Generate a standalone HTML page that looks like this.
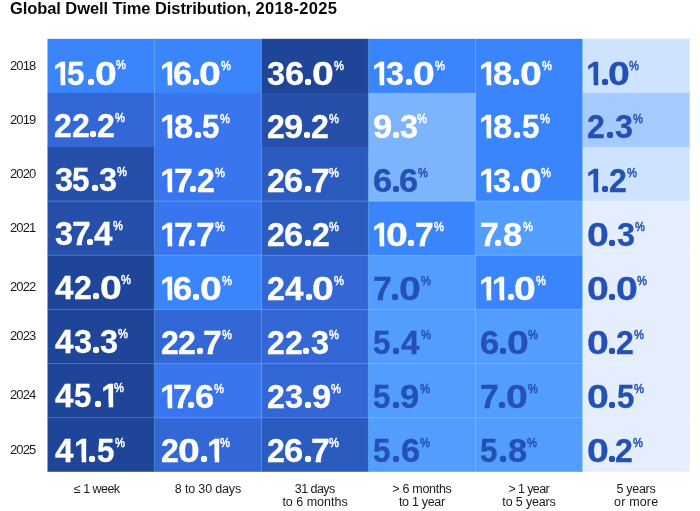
<!DOCTYPE html>
<html lang="en">
<head>
<meta charset="utf-8">
<title>Global Dwell Time Distribution, 2018-2025</title>
<style>
html,body{margin:0;padding:0;background:#fff;}
body{width:700px;height:511px;position:relative;overflow:hidden;font-family:"Liberation Sans",Arial,sans-serif;color:#111;}
h1{position:absolute;left:10px;top:-1.2px;margin:0;font-size:16.5px;line-height:18px;font-weight:700;white-space:nowrap;color:#0a0a0a;}
.yr{position:absolute;left:10px;width:36px;height:20px;line-height:20px;font-size:13px;color:#1a1a1a;letter-spacing:-0.9px;}
svg{position:absolute;left:0;top:0;}
.n{position:absolute;font-size:33.5px;line-height:40px;height:40px;font-weight:700;white-space:nowrap;-webkit-text-stroke:0.3px currentColor;}
.n i{display:inline-block;font-style:normal;transform-origin:0 50%;}
.p{position:absolute;font-size:13px;line-height:14px;height:14px;font-weight:400;-webkit-text-stroke:0.5px currentColor;transform-origin:0 50%;transform:scaleX(0.86);}
.w{color:#fff;}
.d{color:#2451b3;}
.lab{position:absolute;width:107.02px;top:482.6px;text-align:center;font-size:12.5px;line-height:13.5px;color:#1a1a1a;white-space:nowrap;}
.n .g0{transform:scaleX(1.169);margin:0 1.89px 0 -1.22px;}
.n .g1{transform:scaleX(0.990);margin:0 -6.14px 0 -1.69px;clip-path:polygon(1.84px 0,12.45px 0,12.45px 40px,7.76px 40px,7.76px 26.76px,1.84px 26.76px);}
.n .g2{transform:scaleX(0.957);margin:0 -1.78px 0 -0.85px;}
.n .g3{transform:scaleX(0.970);margin:0 -1.45px 0 -0.48px;}
.n .g4{transform:scaleX(0.989);margin:0 -0.04px 0 -0.19px;}
.n .g5{transform:scaleX(0.934);margin:0 -1.80px 0 -0.64px;}
.n .g6{transform:scaleX(1.031);margin:0 -0.39px 0 -0.94px;}
.n .g7{transform:scaleX(1.006);margin:0 -1.02px 0 -1.11px;}
.n .g8{transform:scaleX(1.030);margin:0 -0.20px 0 -0.83px;}
.n .g9{transform:scaleX(1.031);margin:0 -0.39px 0 -0.94px;}
.n .gp{transform:scale(1.298);margin:0 0.08px 0 -2.69px;clip-path:circle(2.47px at 4.65px 28.65px);transform-origin:0 31px;}

</style>
</head>
<body>
<h1><span style="letter-spacing:-0.08px">Global Dwell Time Distribution, </span><span style="letter-spacing:0.3px">2018-2025</span></h1>
<svg width="700" height="511" viewBox="0 0 700 511"><rect x="47.50" y="38.80" width="107.72" height="54.83" fill="#3b85fc"/><rect x="154.52" y="38.80" width="107.72" height="54.83" fill="#3b85fc"/><rect x="261.54" y="38.80" width="107.72" height="54.83" fill="#1f4599"/><rect x="368.56" y="38.80" width="107.72" height="54.83" fill="#3b85fc"/><rect x="475.58" y="38.80" width="107.72" height="54.83" fill="#3b85fc"/><rect x="582.60" y="38.80" width="107.02" height="54.83" fill="#cde3ff"/><rect x="47.50" y="92.92" width="107.72" height="54.83" fill="#3367d6"/><rect x="154.52" y="92.92" width="107.72" height="54.83" fill="#3875ee"/><rect x="261.54" y="92.92" width="107.72" height="54.83" fill="#254fa9"/><rect x="368.56" y="92.92" width="107.72" height="54.83" fill="#7db5fd"/><rect x="475.58" y="92.92" width="107.72" height="54.83" fill="#3b85fc"/><rect x="582.60" y="92.92" width="107.02" height="54.83" fill="#a5cbfe"/><rect x="47.50" y="147.05" width="107.72" height="54.83" fill="#254fa9"/><rect x="154.52" y="147.05" width="107.72" height="54.83" fill="#3875ee"/><rect x="261.54" y="147.05" width="107.72" height="54.83" fill="#2c5bc0"/><rect x="368.56" y="147.05" width="107.72" height="54.83" fill="#7db5fd"/><rect x="475.58" y="147.05" width="107.72" height="54.83" fill="#3b85fc"/><rect x="582.60" y="147.05" width="107.02" height="54.83" fill="#cde3ff"/><rect x="47.50" y="201.18" width="107.72" height="54.83" fill="#254fa9"/><rect x="154.52" y="201.18" width="107.72" height="54.83" fill="#3875ee"/><rect x="261.54" y="201.18" width="107.72" height="54.83" fill="#2c5bc0"/><rect x="368.56" y="201.18" width="107.72" height="54.83" fill="#3b85fc"/><rect x="475.58" y="201.18" width="107.72" height="54.83" fill="#529dfd"/><rect x="582.60" y="201.18" width="107.02" height="54.83" fill="#e5eeff"/><rect x="47.50" y="255.30" width="107.72" height="54.83" fill="#1f4599"/><rect x="154.52" y="255.30" width="107.72" height="54.83" fill="#3b85fc"/><rect x="261.54" y="255.30" width="107.72" height="54.83" fill="#3367d6"/><rect x="368.56" y="255.30" width="107.72" height="54.83" fill="#529dfd"/><rect x="475.58" y="255.30" width="107.72" height="54.83" fill="#3b85fc"/><rect x="582.60" y="255.30" width="107.02" height="54.83" fill="#e5eeff"/><rect x="47.50" y="309.43" width="107.72" height="54.83" fill="#1f4599"/><rect x="154.52" y="309.43" width="107.72" height="54.83" fill="#3367d6"/><rect x="261.54" y="309.43" width="107.72" height="54.83" fill="#3367d6"/><rect x="368.56" y="309.43" width="107.72" height="54.83" fill="#529dfd"/><rect x="475.58" y="309.43" width="107.72" height="54.83" fill="#529dfd"/><rect x="582.60" y="309.43" width="107.02" height="54.83" fill="#e5eeff"/><rect x="47.50" y="363.55" width="107.72" height="54.83" fill="#1f4599"/><rect x="154.52" y="363.55" width="107.72" height="54.83" fill="#3875ee"/><rect x="261.54" y="363.55" width="107.72" height="54.83" fill="#3367d6"/><rect x="368.56" y="363.55" width="107.72" height="54.83" fill="#529dfd"/><rect x="475.58" y="363.55" width="107.72" height="54.83" fill="#529dfd"/><rect x="582.60" y="363.55" width="107.02" height="54.83" fill="#e5eeff"/><rect x="47.50" y="417.68" width="107.72" height="54.12" fill="#1f4599"/><rect x="154.52" y="417.68" width="107.72" height="54.12" fill="#3367d6"/><rect x="261.54" y="417.68" width="107.72" height="54.12" fill="#2c5bc0"/><rect x="368.56" y="417.68" width="107.72" height="54.12" fill="#529dfd"/><rect x="475.58" y="417.68" width="107.72" height="54.12" fill="#529dfd"/><rect x="582.60" y="417.68" width="107.02" height="54.12" fill="#e5eeff"/><g fill="#264747" style="mix-blend-mode:screen"><rect x="153.92" y="38.80" width="1.0" height="433.00"/><rect x="260.94" y="38.80" width="1.0" height="433.00"/><rect x="367.96" y="38.80" width="1.0" height="433.00"/><rect x="474.98" y="38.80" width="1.0" height="433.00"/><rect x="582.00" y="38.80" width="1.0" height="433.00"/><rect x="47.50" y="200.68" width="642.12" height="1.0"/><rect x="47.50" y="254.80" width="642.12" height="1.0"/><rect x="47.50" y="308.93" width="642.12" height="1.0"/><rect x="47.50" y="363.05" width="642.12" height="1.0"/><rect x="47.50" y="417.18" width="642.12" height="1.0"/></g></svg>
<div class="yr" style="top:55.60px">2018</div>
<span class="n w" aria-label="15.0%" style="left:55.05px;top:54.00px"><i class="g1" style="letter-spacing:2.22px">1</i><i class="g5" style="letter-spacing:3.02px">5</i><i class="gp" style="letter-spacing:1.72px">.</i><i class="g0" style="letter-spacing:0.00px">0</i></span><span class="p w" style="left:116.05px;top:58.00px">%</span>
<span class="n w" aria-label="16.0%" style="left:161.65px;top:54.00px"><i class="g1" style="letter-spacing:1.55px">1</i><i class="g6" style="letter-spacing:1.05px">6</i><i class="gp" style="letter-spacing:1.05px">.</i><i class="g0" style="letter-spacing:0.00px">0</i></span><span class="p w" style="left:220.85px;top:59.00px">%</span>
<span class="n w" aria-label="36.0%" style="left:267.85px;top:54.00px"><i class="g3" style="letter-spacing:1.50px">3</i><i class="g6" style="letter-spacing:1.50px">6</i><i class="gp" style="letter-spacing:1.50px">.</i><i class="g0" style="letter-spacing:0.00px">0</i></span><span class="p w" style="left:333.65px;top:59.00px">%</span>
<span class="n w" aria-label="13.0%" style="left:374.07px;top:54.00px"><i class="g1" style="letter-spacing:2.00px">1</i><i class="g3" style="letter-spacing:2.30px">3</i><i class="gp" style="letter-spacing:1.50px">.</i><i class="g0" style="letter-spacing:0.00px">0</i></span><span class="p w" style="left:434.65px;top:59.00px">%</span>
<span class="n w" aria-label="18.0%" style="left:481.07px;top:54.00px"><i class="g1" style="letter-spacing:2.00px">1</i><i class="g8" style="letter-spacing:1.50px">8</i><i class="gp" style="letter-spacing:1.50px">.</i><i class="g0" style="letter-spacing:0.00px">0</i></span><span class="p w" style="left:541.85px;top:59.00px">%</span>
<span class="n d" aria-label="1.0%" style="left:588.07px;top:54.00px"><i class="g1" style="letter-spacing:2.60px">1</i><i class="gp" style="letter-spacing:1.50px">.</i><i class="g0" style="letter-spacing:0.00px">0</i></span><span class="p d" style="left:629.05px;top:59.00px">%</span>
<div class="yr" style="top:109.80px">2019</div>
<span class="n w" aria-label="22.2%" style="left:55.26px;top:106.00px"><i class="g2" style="letter-spacing:1.22px">2</i><i class="g2" style="letter-spacing:1.22px">2</i><i class="gp" style="letter-spacing:1.22px">.</i><i class="g2" style="letter-spacing:0.00px">2</i></span><span class="p w" style="left:115.05px;top:111.00px">%</span>
<span class="n w" aria-label="18.5%" style="left:161.65px;top:107.00px"><i class="g1" style="letter-spacing:2.42px">1</i><i class="g8" style="letter-spacing:1.92px">8</i><i class="gp" style="letter-spacing:1.92px">.</i><i class="g5" style="letter-spacing:0.00px">5</i></span><span class="p w" style="left:219.65px;top:112.00px">%</span>
<span class="n w" aria-label="29.2%" style="left:267.76px;top:107.00px"><i class="g2" style="letter-spacing:1.30px">2</i><i class="g9" style="letter-spacing:1.30px">9</i><i class="gp" style="letter-spacing:1.30px">.</i><i class="g2" style="letter-spacing:0.00px">2</i></span><span class="p w" style="left:329.05px;top:112.00px">%</span>
<span class="n w" aria-label="9.3%" style="left:373.95px;top:107.00px"><i class="g9" style="letter-spacing:1.15px">9</i><i class="gp" style="letter-spacing:1.15px">.</i><i class="g3" style="letter-spacing:0.00px">3</i></span><span class="p w" style="left:417.45px;top:112.00px">%</span>
<span class="n w" aria-label="18.5%" style="left:480.99px;top:107.00px"><i class="g1" style="letter-spacing:2.49px">1</i><i class="g8" style="letter-spacing:1.99px">8</i><i class="gp" style="letter-spacing:1.99px">.</i><i class="g5" style="letter-spacing:0.00px">5</i></span><span class="p w" style="left:540.05px;top:112.00px">%</span>
<span class="n d" aria-label="2.3%" style="left:588.08px;top:107.00px"><i class="g2" style="letter-spacing:2.40px">2</i><i class="gp" style="letter-spacing:2.40px">.</i><i class="g3" style="letter-spacing:0.00px">3</i></span><span class="p d" style="left:632.65px;top:112.00px">%</span>
<div class="yr" style="top:164.00px">2020</div>
<span class="n w" aria-label="35.3%" style="left:55.11px;top:160.00px"><i class="g3" style="letter-spacing:1.18px">3</i><i class="g5" style="letter-spacing:2.48px">5</i><i class="gp" style="letter-spacing:1.18px">.</i><i class="g3" style="letter-spacing:0.00px">3</i></span><span class="p w" style="left:117.25px;top:165.00px">%</span>
<span class="n w" aria-label="17.2%" style="left:161.65px;top:161.00px"><i class="g1" style="letter-spacing:2.79px">1</i><i class="g7" style="letter-spacing:-2.41px">7</i><i class="gp" style="letter-spacing:1.89px">.</i><i class="g2" style="letter-spacing:0.00px">2</i></span><span class="p w" style="left:214.65px;top:166.00px">%</span>
<span class="n w" aria-label="26.7%" style="left:267.85px;top:161.00px"><i class="g2" style="letter-spacing:1.50px">2</i><i class="g6" style="letter-spacing:1.50px">6</i><i class="gp" style="letter-spacing:1.50px">.</i><i class="g7" style="letter-spacing:0.00px">7</i></span><span class="p w" style="left:329.05px;top:166.00px">%</span>
<span class="n d" aria-label="6.6%" style="left:373.96px;top:161.00px"><i class="g6" style="letter-spacing:1.18px">6</i><i class="gp" style="letter-spacing:1.18px">.</i><i class="g6" style="letter-spacing:0.00px">6</i></span><span class="p d" style="left:418.25px;top:166.00px">%</span>
<span class="n w" aria-label="13.0%" style="left:481.07px;top:161.00px"><i class="g1" style="letter-spacing:2.00px">1</i><i class="g3" style="letter-spacing:2.30px">3</i><i class="gp" style="letter-spacing:1.50px">.</i><i class="g0" style="letter-spacing:0.00px">0</i></span><span class="p w" style="left:541.32px;top:166.00px">%</span>
<span class="n d" aria-label="1.2%" style="left:588.07px;top:161.00px"><i class="g1" style="letter-spacing:2.60px">1</i><i class="gp" style="letter-spacing:1.50px">.</i><i class="g2" style="letter-spacing:0.00px">2</i></span><span class="p d" style="left:626.62px;top:166.00px">%</span>
<div class="yr" style="top:217.80px">2021</div>
<span class="n w" aria-label="37.4%" style="left:55.11px;top:214.00px"><i class="g3" style="letter-spacing:1.12px">3</i><i class="g7" style="letter-spacing:-3.18px">7</i><i class="gp" style="letter-spacing:1.12px">.</i><i class="g4" style="letter-spacing:0.00px">4</i></span><span class="p w" style="left:113.45px;top:219.00px">%</span>
<span class="n w" aria-label="17.7%" style="left:161.90px;top:215.00px"><i class="g1" style="letter-spacing:2.40px">1</i><i class="g7" style="letter-spacing:-2.80px">7</i><i class="gp" style="letter-spacing:1.50px">.</i><i class="g7" style="letter-spacing:0.00px">7</i></span><span class="p w" style="left:214.85px;top:220.00px">%</span>
<span class="n w" aria-label="26.2%" style="left:267.85px;top:215.00px"><i class="g2" style="letter-spacing:1.50px">2</i><i class="g6" style="letter-spacing:1.50px">6</i><i class="gp" style="letter-spacing:1.50px">.</i><i class="g2" style="letter-spacing:0.00px">2</i></span><span class="p w" style="left:329.30px;top:220.00px">%</span>
<span class="n w" aria-label="10.7%" style="left:374.07px;top:215.00px"><i class="g1" style="letter-spacing:2.00px">1</i><i class="g0" style="letter-spacing:1.50px">0</i><i class="gp" style="letter-spacing:1.50px">.</i><i class="g7" style="letter-spacing:0.00px">7</i></span><span class="p w" style="left:433.95px;top:220.00px">%</span>
<span class="n w" aria-label="7.8%" style="left:480.80px;top:215.00px"><i class="g7" style="letter-spacing:-2.29px">7</i><i class="gp" style="letter-spacing:2.01px">.</i><i class="g8" style="letter-spacing:0.00px">8</i></span><span class="p w" style="left:522.65px;top:220.00px">%</span>
<span class="n d" aria-label="0.3%" style="left:588.07px;top:215.00px"><i class="g0" style="letter-spacing:1.50px">0</i><i class="gp" style="letter-spacing:1.50px">.</i><i class="g3" style="letter-spacing:0.00px">3</i></span><span class="p d" style="left:634.72px;top:220.00px">%</span>
<div class="yr" style="top:276.90px">2022</div>
<span class="n w" aria-label="42.0%" style="left:55.10px;top:268.00px"><i class="g4" style="letter-spacing:1.50px">4</i><i class="g2" style="letter-spacing:1.50px">2</i><i class="gp" style="letter-spacing:1.50px">.</i><i class="g0" style="letter-spacing:0.00px">0</i></span><span class="p w" style="left:120.95px;top:273.00px">%</span>
<span class="n w" aria-label="16.0%" style="left:161.65px;top:269.00px"><i class="g1" style="letter-spacing:1.92px">1</i><i class="g6" style="letter-spacing:1.42px">6</i><i class="gp" style="letter-spacing:1.42px">.</i><i class="g0" style="letter-spacing:0.00px">0</i></span><span class="p w" style="left:221.95px;top:274.00px">%</span>
<span class="n w" aria-label="24.0%" style="left:267.85px;top:269.00px"><i class="g2" style="letter-spacing:1.50px">2</i><i class="g4" style="letter-spacing:1.50px">4</i><i class="gp" style="letter-spacing:1.50px">.</i><i class="g0" style="letter-spacing:0.00px">0</i></span><span class="p w" style="left:333.70px;top:274.00px">%</span>
<span class="n d" aria-label="7.0%" style="left:374.07px;top:269.00px"><i class="g7" style="letter-spacing:1.50px">7</i><i class="gp" style="letter-spacing:1.50px">.</i><i class="g0" style="letter-spacing:0.00px">0</i></span><span class="p d" style="left:420.85px;top:274.00px">%</span>
<span class="n w" aria-label="11.0%" style="left:481.07px;top:269.00px"><i class="g1" style="letter-spacing:2.00px">1</i><i class="g1" style="letter-spacing:2.60px">1</i><i class="gp" style="letter-spacing:1.50px">.</i><i class="g0" style="letter-spacing:0.00px">0</i></span><span class="p w" style="left:535.72px;top:274.00px">%</span>
<span class="n d" aria-label="0.0%" style="left:588.07px;top:269.00px"><i class="g0" style="letter-spacing:1.50px">0</i><i class="gp" style="letter-spacing:1.50px">.</i><i class="g0" style="letter-spacing:0.00px">0</i></span><span class="p d" style="left:637.32px;top:274.00px">%</span>
<div class="yr" style="top:325.90px">2023</div>
<span class="n w" aria-label="43.3%" style="left:54.92px;top:322.00px"><i class="g4" style="letter-spacing:0.99px">4</i><i class="g3" style="letter-spacing:1.79px">3</i><i class="gp" style="letter-spacing:0.99px">.</i><i class="g3" style="letter-spacing:0.00px">3</i></span><span class="p w" style="left:118.15px;top:327.00px">%</span>
<span class="n w" aria-label="22.7%" style="left:161.86px;top:323.00px"><i class="g2" style="letter-spacing:1.29px">2</i><i class="g2" style="letter-spacing:1.29px">2</i><i class="gp" style="letter-spacing:1.29px">.</i><i class="g7" style="letter-spacing:0.00px">7</i></span><span class="p w" style="left:221.85px;top:328.00px">%</span>
<span class="n w" aria-label="22.3%" style="left:267.85px;top:323.00px"><i class="g2" style="letter-spacing:1.50px">2</i><i class="g2" style="letter-spacing:1.50px">2</i><i class="gp" style="letter-spacing:1.50px">.</i><i class="g3" style="letter-spacing:0.00px">3</i></span><span class="p w" style="left:328.70px;top:328.00px">%</span>
<span class="n d" aria-label="5.4%" style="left:374.07px;top:323.00px"><i class="g5" style="letter-spacing:2.80px">5</i><i class="gp" style="letter-spacing:1.50px">.</i><i class="g4" style="letter-spacing:0.00px">4</i></span><span class="p d" style="left:420.62px;top:328.00px">%</span>
<span class="n d" aria-label="6.0%" style="left:481.07px;top:323.00px"><i class="g6" style="letter-spacing:1.50px">6</i><i class="gp" style="letter-spacing:1.50px">.</i><i class="g0" style="letter-spacing:0.00px">0</i></span><span class="p d" style="left:528.32px;top:328.00px">%</span>
<span class="n d" aria-label="0.2%" style="left:588.07px;top:323.00px"><i class="g0" style="letter-spacing:1.50px">0</i><i class="gp" style="letter-spacing:1.50px">.</i><i class="g2" style="letter-spacing:0.00px">2</i></span><span class="p d" style="left:634.02px;top:328.00px">%</span>
<div class="yr" style="top:384.90px">2024</div>
<span class="n w" aria-label="45.1%" style="left:54.92px;top:376.00px"><i class="g4" style="letter-spacing:1.73px">4</i><i class="g5" style="letter-spacing:3.03px">5</i><i class="gp" style="letter-spacing:1.43px">.</i><i class="g1" style="letter-spacing:0.00px">1</i></span><span class="p w" style="left:113.75px;top:381.00px">%</span>
<span class="n w" aria-label="17.6%" style="left:161.65px;top:377.00px"><i class="g1" style="letter-spacing:2.02px">1</i><i class="g7" style="letter-spacing:-3.18px">7</i><i class="gp" style="letter-spacing:1.12px">.</i><i class="g6" style="letter-spacing:0.00px">6</i></span><span class="p w" style="left:213.65px;top:382.00px">%</span>
<span class="n w" aria-label="23.9%" style="left:267.85px;top:377.00px"><i class="g2" style="letter-spacing:1.50px">2</i><i class="g3" style="letter-spacing:2.30px">3</i><i class="gp" style="letter-spacing:1.50px">.</i><i class="g9" style="letter-spacing:0.00px">9</i></span><span class="p w" style="left:330.80px;top:382.00px">%</span>
<span class="n d" aria-label="5.9%" style="left:374.07px;top:377.00px"><i class="g5" style="letter-spacing:2.80px">5</i><i class="gp" style="letter-spacing:1.50px">.</i><i class="g9" style="letter-spacing:0.00px">9</i></span><span class="p d" style="left:419.52px;top:382.00px">%</span>
<span class="n d" aria-label="7.0%" style="left:481.07px;top:377.00px"><i class="g7" style="letter-spacing:1.50px">7</i><i class="gp" style="letter-spacing:1.50px">.</i><i class="g0" style="letter-spacing:0.00px">0</i></span><span class="p d" style="left:527.65px;top:382.00px">%</span>
<span class="n d" aria-label="0.5%" style="left:587.78px;top:377.00px"><i class="g0" style="letter-spacing:1.96px">0</i><i class="gp" style="letter-spacing:1.96px">.</i><i class="g5" style="letter-spacing:0.00px">5</i></span><span class="p d" style="left:634.22px;top:382.00px">%</span>
<div class="yr" style="top:440.00px">2025</div>
<span class="n w" aria-label="41.5%" style="left:54.92px;top:431.00px"><i class="g4" style="letter-spacing:1.86px">4</i><i class="g1" style="letter-spacing:2.96px">1</i><i class="gp" style="letter-spacing:1.86px">.</i><i class="g5" style="letter-spacing:0.00px">5</i></span><span class="p w" style="left:114.55px;top:436.00px">%</span>
<span class="n w" aria-label="20.1%" style="left:161.86px;top:431.00px"><i class="g2" style="letter-spacing:1.72px">2</i><i class="g0" style="letter-spacing:1.72px">0</i><i class="gp" style="letter-spacing:1.42px">.</i><i class="g1" style="letter-spacing:0.00px">1</i></span><span class="p w" style="left:219.85px;top:436.00px">%</span>
<span class="n w" aria-label="26.7%" style="left:267.85px;top:431.00px"><i class="g2" style="letter-spacing:1.50px">2</i><i class="g6" style="letter-spacing:1.50px">6</i><i class="gp" style="letter-spacing:1.50px">.</i><i class="g7" style="letter-spacing:0.00px">7</i></span><span class="p w" style="left:329.05px;top:436.00px">%</span>
<span class="n d" aria-label="5.6%" style="left:373.41px;top:431.00px"><i class="g5" style="letter-spacing:3.29px">5</i><i class="gp" style="letter-spacing:1.99px">.</i><i class="g6" style="letter-spacing:0.00px">6</i></span><span class="p d" style="left:419.52px;top:436.00px">%</span>
<span class="n d" aria-label="5.8%" style="left:480.33px;top:431.00px"><i class="g5" style="letter-spacing:3.27px">5</i><i class="gp" style="letter-spacing:1.97px">.</i><i class="g8" style="letter-spacing:0.00px">8</i></span><span class="p d" style="left:526.82px;top:436.00px">%</span>
<span class="n d" aria-label="0.2%" style="left:587.92px;top:431.00px"><i class="g0" style="letter-spacing:1.05px">0</i><i class="gp" style="letter-spacing:1.05px">.</i><i class="g2" style="letter-spacing:0.00px">2</i></span><span class="p d" style="left:633.05px;top:436.00px">%</span>
<div class="lab" style="left:43.50px"><span style="letter-spacing:-0.55px;margin-right:0.55px">≤ 1 week</span></div>
<div class="lab" style="left:154.52px"><span style="letter-spacing:-0.16px;margin-right:0.16px">8 to 30 days</span></div>
<div class="lab" style="left:261.54px"><span style="letter-spacing:-0.55px;margin-right:0.55px">31 days</span><br><span style="letter-spacing:0px;margin-right:0px">to 6 months</span></div>
<div class="lab" style="left:368.56px"><span style="letter-spacing:-0.3px;margin-right:0.3px">&gt; 6 months</span><br><span style="letter-spacing:-0.3px;margin-right:0.3px">to 1 year</span></div>
<div class="lab" style="left:475.58px"><span style="letter-spacing:-0.6px;margin-right:0.6px">&gt; 1 year</span><br><span style="letter-spacing:-0.15px;margin-right:0.15px">to 5 years</span></div>
<div class="lab" style="left:582.60px"><span style="letter-spacing:-0.3px;margin-right:0.3px">5 years</span><br><span style="letter-spacing:0.17px;margin-right:-0.17px">or more</span></div>
</body>
</html>
